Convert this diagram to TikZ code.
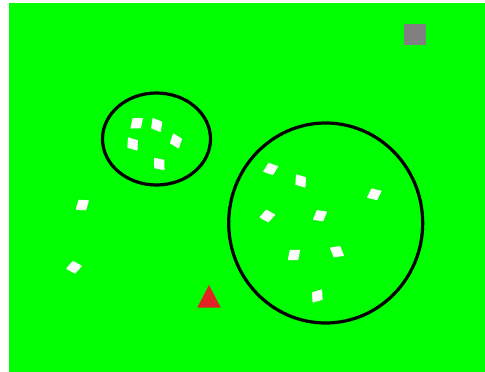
\documentclass[tikz,border=0pt]{standalone}
\usetikzlibrary{shapes.geometric}
\definecolor{bggreen}{RGB}{0,255,0}
\definecolor{tri}{RGB}{225,35,35}
\definecolor{sq}{RGB}{128,128,128}
\begin{document}
\begin{tikzpicture}[x=1pt,y=-1pt,
  spark/.style={diamond,fill=white,draw=white,line width=1.2pt,line join=round,inner sep=0pt,minimum width=15pt,minimum height=12pt},
  ring/.style={draw=black,line width=3.2pt}]
\useasboundingbox (0,0) rectangle (485,372);
\fill[white] (0,0) rectangle (485,372);
\fill[bggreen] (9,3) rectangle (485,372);
\node[fill=sq,minimum width=22pt,minimum height=21pt,inner sep=0pt] (sqr) at (414.5,34.5) {};
\node[ellipse,ring,minimum width=108pt,minimum height=92pt,inner sep=0pt] (c1) at (156.5,139) {};
\node[ellipse,ring,minimum width=194pt,minimum height=200pt,inner sep=0pt] (c2) at (325.7,223) {};
\fill[tri] (209,285) -- (220.7,307.5) -- (197.3,307.5) -- cycle;
% small circle sparks
\node[spark,rotate=40] (s1) at (136.7,123.3) {};
\node[spark,rotate=-60] (s2) at (156.7,125) {};
\node[spark,rotate=-55] (s3) at (132.7,144) {};
\node[spark,rotate=-70] (s4) at (176,141) {};
\node[spark,rotate=-50] (s5) at (159.3,164) {};
% big circle sparks
\node[spark,rotate=20] (b1) at (270.7,169) {};
\node[spark,rotate=-55] (b2) at (300.7,181) {};
\node[spark,rotate=25] (b3) at (374.3,194.3) {};
\node[spark,rotate=10] (b4) at (267.3,216) {};
\node[spark,rotate=30] (b5) at (320,215.7) {};
\node[spark,rotate=40] (b6) at (294,255) {};
\node[spark,rotate=-30] (b7) at (337,251.7) {};
\node[spark,rotate=55] (b8) at (317.3,296) {};
% outside sparks
\node[spark,rotate=35] (o1) at (82.3,205) {};
\node[spark,rotate=10] (o2) at (74,267.3) {};
\end{tikzpicture}
\end{document}
